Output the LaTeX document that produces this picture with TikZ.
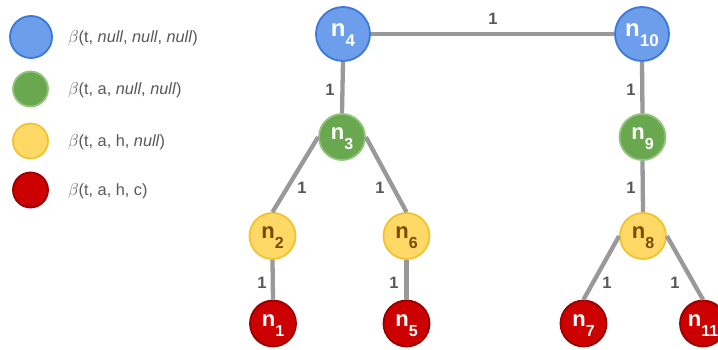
\documentclass[tikz,border=0pt]{standalone}
\usepackage{fontspec}
\setmainfont{Liberation Sans}
\definecolor{bluefill}{HTML}{6D9EEB}
\definecolor{blueline}{HTML}{3C78D8}
\definecolor{greenfill}{HTML}{6AA84F}
\definecolor{greenline}{HTML}{93C47D}
\definecolor{yellowfill}{HTML}{FFD966}
\definecolor{yellowline}{HTML}{F1C232}
\definecolor{redfill}{HTML}{CC0000}
\definecolor{redline}{HTML}{990000}
\definecolor{edgegray}{HTML}{999999}
\definecolor{labgray}{HTML}{595959}
\definecolor{ytext}{HTML}{7A4A00}
\newcommand\nsub[2]{n\raisebox{-10pt}{\fontsize{#2}{#2}\selectfont\bfseries #1}}
\tikzset{
  tnode/.style={circle, inner sep=0pt, line width=1.8pt, text height=13pt, text depth=8pt,
    font=\bfseries\fontsize{22}{22}\selectfont},
  bignode/.style={tnode, minimum size=54pt, fill=bluefill, draw=blueline, text=white,
    font=\bfseries\fontsize{24}{24}\selectfont},
  gnode/.style={tnode, minimum size=46pt, fill=greenfill, draw=greenline, text=white},
  ynode/.style={tnode, minimum size=46pt, fill=yellowfill, draw=yellowline, text=ytext},
  rnode/.style={tnode, minimum size=46pt, fill=redfill, draw=redline, text=white},
  edge/.style={draw=edgegray, line width=4.3pt},
  elab/.style={text=labgray, font=\bfseries\fontsize{16.5}{16.5}\selectfont, inner sep=0pt},
  legtext/.style={anchor=west, text=labgray, font=\fontsize{16.3}{16.3}\selectfont, inner sep=0pt},
  legc/.style={circle, inner sep=0pt, line width=1.8pt},
}
\begin{document}
\begin{tikzpicture}[x=1pt,y=-1pt]
\clip (0,0) rectangle (718,350);
\fill[white] (0,0) rectangle (718,350);
% legend
\node[legc, minimum size=42pt, fill=bluefill, draw=blueline] (l1) at (31,37) {};
\node[legc, minimum size=35pt, fill=greenfill, draw=greenline] (l2) at (30.5,89) {};
\node[legc, minimum size=35pt, fill=yellowfill, draw=yellowline] (l3) at (30.5,141) {};
\node[legc, minimum size=35pt, fill=redfill, draw=redline] (l4) at (30.5,190) {};
\node[legtext] (t1) at (68,38) {$\beta$(t, \textit{null}, \textit{null}, \textit{null})};
\node[legtext] (t2) at (68,90) {$\beta$(t, a, \textit{null}, \textit{null})};
\node[legtext] (t3) at (68,142) {$\beta$(t, a, h, \textit{null})};
\node[legtext] (t4) at (68,191) {$\beta$(t, a, h, c)};
% tree nodes
\node[bignode] (n4) at (343,34) {\nsub{4}{17}};
\node[bignode] (n10) at (642,34) {\nsub{10}{17}};
\node[gnode] (n3) at (342,137) {\nsub{3}{16}};
\node[gnode] (n9) at (642.5,137) {\nsub{9}{16}};
\node[ynode] (n2) at (272.5,236) {\nsub{2}{16}};
\node[ynode] (n6) at (406.5,236) {\nsub{6}{16}};
\node[ynode] (n8) at (643,236) {\nsub{8}{16}};
\node[rnode] (n1) at (273,323.5) {\nsub{1}{16}};
\node[rnode] (n5) at (406.5,323.5) {\nsub{5}{16}};
\node[rnode] (n7) at (583.5,323.5) {\nsub{7}{16}};
\node[rnode] (n11) at (703,323.5) {\nsub{11}{16}};
% edges
\draw[edge] (n4.east) -- (n10.west);
\draw[edge] (n4.south) -- (n3.north);
\draw[edge] (n10.south) -- (n9.north);
\draw[edge] (n3.west) -- (n2.north);
\draw[edge] (n3.east) -- (n6.north);
\draw[edge] (n9.south) -- (n8.north);
\draw[edge] (n2.south) -- (n1.north);
\draw[edge] (n6.south) -- (n5.north);
\draw[edge] (n8.west) -- (n7.north);
\draw[edge] (n8.east) -- (n11.north);
% edge labels
\node[elab] (e1) at (493,19) {1};
\node[elab] (e2) at (330,90) {1};
\node[elab] (e3) at (631,90) {1};
\node[elab] (e4) at (302,188) {1};
\node[elab] (e5) at (380,188) {1};
\node[elab] (e6) at (631,188) {1};
\node[elab] (e7) at (262,283) {1};
\node[elab] (e8) at (394,283) {1};
\node[elab] (e9) at (607,283) {1};
\node[elab] (e10) at (675,283) {1};
\end{tikzpicture}
\end{document}
